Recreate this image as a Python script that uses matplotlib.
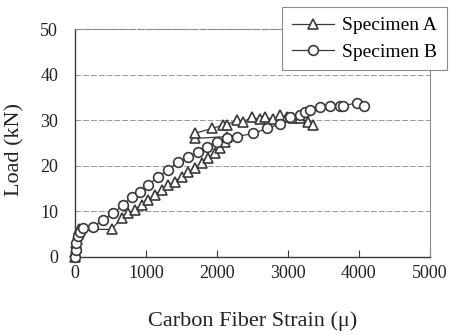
"""Load vs carbon fiber strain, specimens A and B."""
import matplotlib

matplotlib.use("Agg")
import matplotlib.pyplot as plt

plt.rcParams["font.family"] = ["Liberation Serif", "DejaVu Serif"]

# Specimen A (triangles)
strain_a = [0, 5, 10, 15, 25, 40, 60, 517, 658, 752, 846, 940, 1034, 1128, 1222,
            1316, 1410, 1504, 1598, 1692, 1786, 1880, 1974, 2045, 2115, 2139,
            1692, 1692, 1927, 2092, 2139, 2281, 2374, 2492, 2609, 2680, 2797,
            2891, 2986, 3079, 3173, 3290, 3361]
load_a = [0, 1, 2, 3, 4, 5, 6, 6.0, 8.5, 9.5, 10.3, 11.4, 12.5, 13.6, 14.7,
          15.8, 16.5, 17.6, 18.7, 19.4, 20.5, 21.6, 22.7, 23.8, 25.3, 26.4,
          26.0, 27.1, 28.2, 28.9, 29.0, 30.0, 29.7, 30.6, 30.2, 30.6, 30.2,
          31.1, 30.8, 30.4, 30.4, 29.7, 28.9]

# Specimen B (circles)
strain_b = [0, 10, 20, 40, 70, 120, 258, 400, 540, 681, 800, 917, 1034, 1175,
            1316, 1457, 1598, 1739, 1857, 1998, 2139, 2281, 2515, 2704, 2891,
            3032, 3173, 3244, 3315, 3456, 3597, 3738, 3780, 3973, 4067]
load_b = [0, 1.5, 3, 4.5, 5.5, 6.2, 6.6, 8.1, 9.5, 11.4, 13.2, 14.3, 15.8, 17.6,
          19.1, 20.9, 22.0, 23.1, 24.2, 25.3, 26.0, 26.4, 27.1, 28.2, 29.2,
          30.8, 31.1, 31.9, 32.2, 32.8, 33.2, 33.2, 33.2, 33.8, 33.2]

x_ticks = [0, 1000, 2000, 3000, 4000, 5000]
y_ticks = [0, 10, 20, 30, 40, 50]

ink = "#3a3a3a"

fig = plt.figure(figsize=(4.51, 3.36), dpi=100)
ax = fig.add_axes([0.166, 0.236, 0.787, 0.677])

ax.plot(strain_a, load_a, "-^", color=ink, lw=0.9, markersize=7,
        markerfacecolor="white", markeredgecolor=ink, markeredgewidth=1.2,
        clip_on=False, zorder=3, label="Specimen A")
ax.plot(strain_b, load_b, "-o", color=ink, lw=0.9, markersize=7,
        markerfacecolor="white", markeredgecolor=ink, markeredgewidth=1.2,
        clip_on=False, zorder=3, label="Specimen B")

ax.set_xlim(0, 5000)
ax.set_ylim(0, 50)
ax.set_xticks(x_ticks)
ax.set_yticks(y_ticks)
ax.yaxis.grid(True, linestyle=(0, (6, 2)), color="#999999", lw=0.7)
ax.set_axisbelow(True)

ax.tick_params(axis="x", direction="in", length=5, width=0.8, color=ink,
               labelsize=13, pad=6, labelcolor="#222222")
ax.tick_params(axis="y", length=0, labelsize=13, pad=12, labelcolor="#222222")

for side in ("left", "bottom"):
    ax.spines[side].set_color(ink)
    ax.spines[side].set_linewidth(1.0)
for side in ("top", "right"):
    ax.spines[side].set_color("#8a8a8a")
    ax.spines[side].set_linewidth(0.8)
ax.spines["top"].set_linestyle((0, (6, 2)))

ax.set_xlabel("Carbon Fiber Strain (\u03bc)", fontsize=16, color="#222222", labelpad=21)
ax.set_ylabel("Load (kN)", fontsize=16, color="#222222")
ax.yaxis.set_label_coords(-0.141, 0.471)

leg = fig.legend(loc="upper right", bbox_to_anchor=(0.991, 0.979), fontsize=14,
                 handlelength=2.2, fancybox=False, framealpha=1,
                 edgecolor="#8a8a8a", borderpad=0.5, labelspacing=0.45,
                 handletextpad=0.4, borderaxespad=0)
leg.get_frame().set_linewidth(0.8)

fig.savefig("out.png", dpi=100)
